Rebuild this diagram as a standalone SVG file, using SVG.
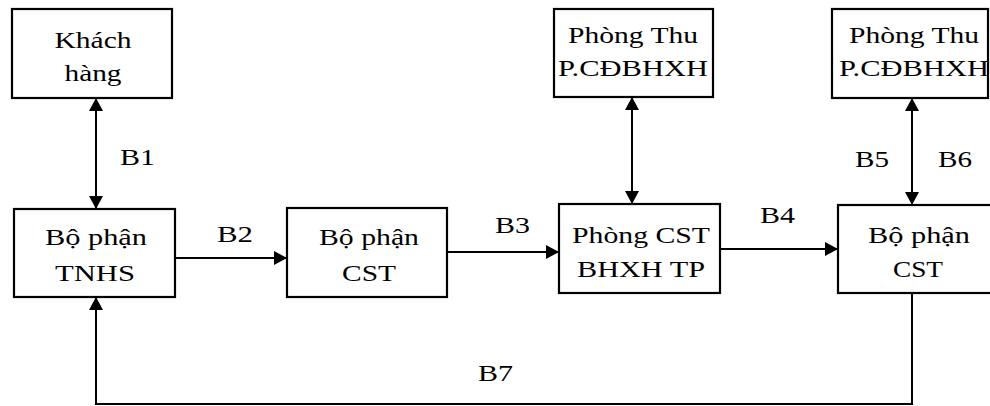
<svg xmlns="http://www.w3.org/2000/svg" width="990" height="406" viewBox="0 0 990 406">
<style>
.box{fill:#fff;stroke:#000;stroke-width:2.2}
.t{font-size:24px;fill:#000;text-anchor:middle}
.l{font-size:24px;fill:#000}
.c{fill:none;stroke:#000;stroke-width:2}
</style>
<defs>
<marker id="ah" markerUnits="userSpaceOnUse" markerWidth="14" markerHeight="14" refX="13" refY="7" orient="auto-start-reverse">
<path d="M0,0 L13,7 L0,14 z" fill="#000"/>
</marker>
</defs>
<rect width="990" height="406" fill="#fff"/>
<g id="connectors">
<line class="c" x1="96" y1="98" x2="96" y2="209" marker-start="url(#ah)" marker-end="url(#ah)"/>
<line class="c" x1="175" y1="258" x2="287" y2="258" marker-end="url(#ah)"/>
<line class="c" x1="447" y1="252" x2="559" y2="252" marker-end="url(#ah)"/>
<line class="c" x1="720" y1="249" x2="838" y2="249" marker-end="url(#ah)"/>
<line class="c" x1="632" y1="97" x2="632" y2="204" marker-start="url(#ah)" marker-end="url(#ah)"/>
<line class="c" x1="912" y1="98" x2="912" y2="205" marker-start="url(#ah)" marker-end="url(#ah)"/>
<polyline class="c" points="912,293 912,404 96,404 96,297" marker-end="url(#ah)"/>
<g font-family="Liberation Serif, serif">
<text class="l" x="120" y="165" textLength="35" lengthAdjust="spacingAndGlyphs">B1</text>
<text class="l" x="217" y="242" textLength="36" lengthAdjust="spacingAndGlyphs">B2</text>
<text class="l" x="495" y="233" textLength="35" lengthAdjust="spacingAndGlyphs">B3</text>
<text class="l" x="760" y="223" textLength="35" lengthAdjust="spacingAndGlyphs">B4</text>
<text class="l" x="855" y="167" textLength="34" lengthAdjust="spacingAndGlyphs">B5</text>
<text class="l" x="938" y="167" textLength="34" lengthAdjust="spacingAndGlyphs">B6</text>
<text class="l" x="478" y="381" textLength="35" lengthAdjust="spacingAndGlyphs">B7</text>
</g>
</g>
<g font-family="Liberation Serif, serif">
<g id="khachhang">
<rect class="box" x="12" y="9" width="160" height="89"/>
<text class="t" x="93" y="48" textLength="77" lengthAdjust="spacingAndGlyphs">Khách</text>
<text class="t" x="93" y="81" textLength="57" lengthAdjust="spacingAndGlyphs">hàng</text>
</g>
<g id="tnhs">
<rect class="box" x="14" y="209" width="161" height="88"/>
<text class="t" x="96" y="245" textLength="102" lengthAdjust="spacingAndGlyphs">Bộ phận</text>
<text class="t" x="95" y="281" textLength="80" lengthAdjust="spacingAndGlyphs">TNHS</text>
</g>
<g id="cst1">
<rect class="box" x="287" y="208" width="160" height="89"/>
<text class="t" x="369" y="245" textLength="100" lengthAdjust="spacingAndGlyphs">Bộ phận</text>
<text class="t" x="369" y="281" textLength="54" lengthAdjust="spacingAndGlyphs">CST</text>
</g>
<g id="phongcst">
<rect class="box" x="559" y="204" width="161" height="89"/>
<text class="t" x="641" y="243" textLength="138" lengthAdjust="spacingAndGlyphs">Phòng CST</text>
<text class="t" x="641" y="277" textLength="128" lengthAdjust="spacingAndGlyphs">BHXH TP</text>
</g>
<g id="cst2">
<rect class="box" x="838" y="205" width="162" height="88"/>
<text class="t" x="919" y="243" textLength="102" lengthAdjust="spacingAndGlyphs">Bộ phận</text>
<text class="t" x="918" y="277" textLength="50" lengthAdjust="spacingAndGlyphs">CST</text>
</g>
<g id="phongthu1">
<rect class="box" x="554" y="9" width="159" height="88"/>
<text class="t" x="633" y="43" textLength="130" lengthAdjust="spacingAndGlyphs">Phòng Thu</text>
<text class="t" x="633" y="76" textLength="150" lengthAdjust="spacingAndGlyphs">P.CĐBHXH</text>
</g>
<g id="phongthu2">
<rect class="box" x="832" y="9" width="156" height="89"/>
<text class="t" x="914" y="43" textLength="130" lengthAdjust="spacingAndGlyphs">Phòng Thu</text>
<text class="t" x="914" y="76" textLength="150" lengthAdjust="spacingAndGlyphs">P.CĐBHXH</text>
</g>
</g>
</svg>
